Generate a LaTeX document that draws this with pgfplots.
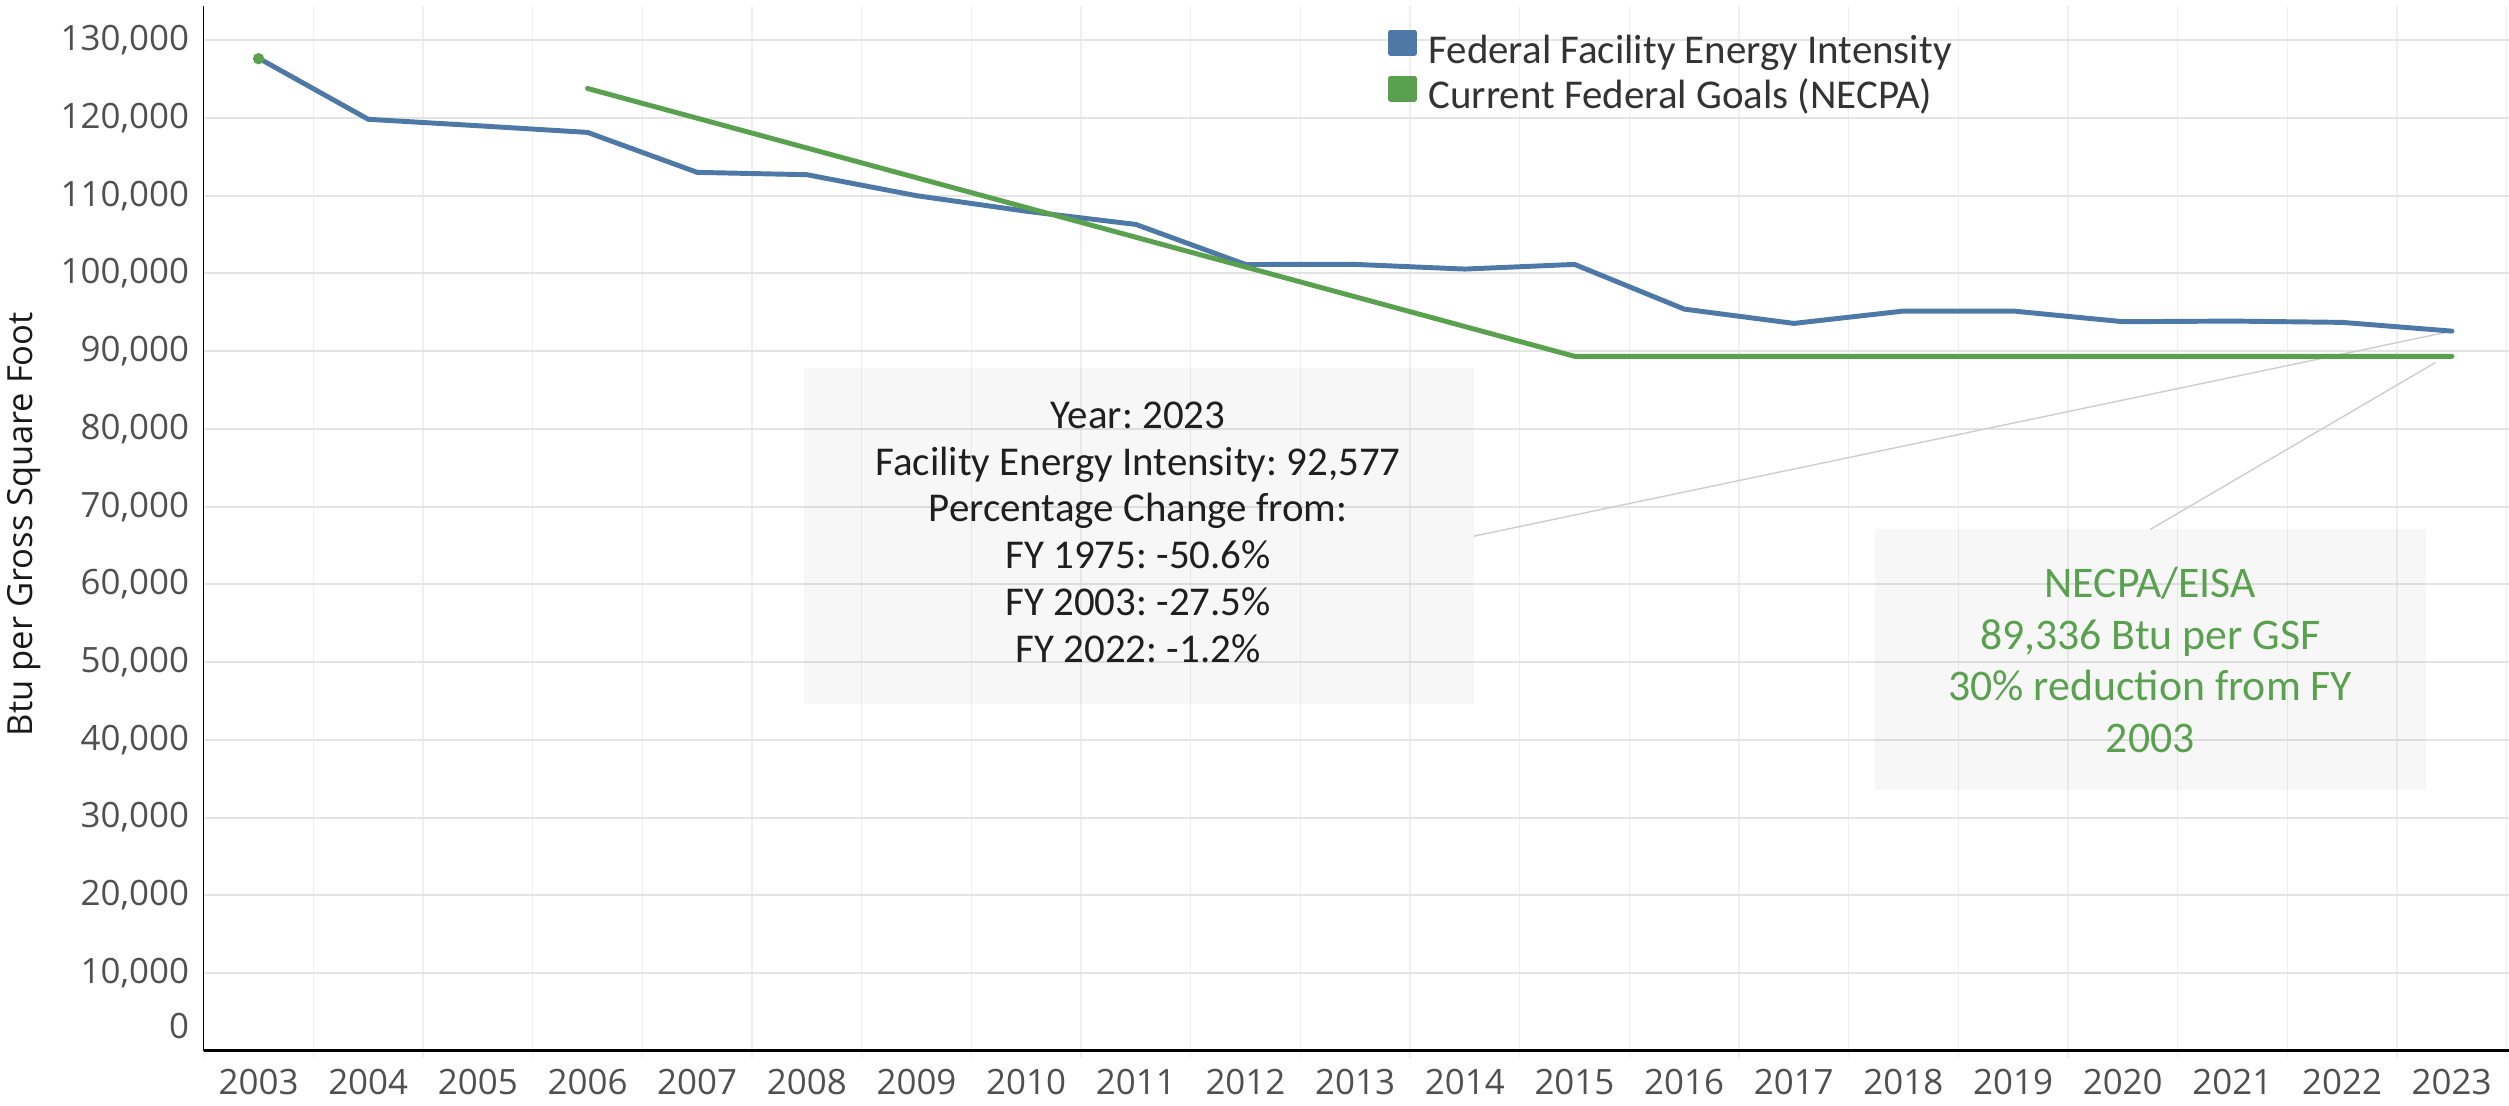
\documentclass[border=0pt]{standalone}
\usepackage{fontspec}
\setmainfont{Carlito}
\newfontfamily\titlefont{Open Sans}
\usepackage{pgfplots}
\pgfplotsset{compat=1.18}

\definecolor{tblue}{HTML}{4E79A7}
\definecolor{tgreen}{HTML}{59A14F}
\definecolor{hgrid}{HTML}{E4E4E4}
\definecolor{vgrid}{HTML}{EFEFEF}
\definecolor{ticktext}{HTML}{505050}
\definecolor{leader}{HTML}{CDCDCD}

\begin{document}
\frenchspacing
\begin{tikzpicture}
\begin{axis}[name=main,
  scale only axis, width=22.98cm, height=10.41cm,
  xmin=2002.5, xmax=2023.53, ymin=0, ymax=134400,
  axis lines=left,
  x axis line style={-, line width=0.9pt, black},
  y axis line style={-, line width=0.4pt, black},
  xtick={2003,...,2023},
  minor xtick={2002.5,2003.5,...,2023.5},
  ytick={10000,20000,...,130000},
  extra y ticks={3200}, extra y tick labels={0},
  extra y tick style={grid=none},
  major tick length=0pt, minor tick length=0.07cm, tick align=outside,
  minor tick style={draw=vgrid, line width=0.4pt},
  ymajorgrids, xminorgrids,
  major grid style={draw=hgrid, line width=0.6pt},
  minor grid style={draw=vgrid, line width=0.4pt},
  scaled y ticks=false,
  /pgf/number format/fixed,
  /pgf/number format/precision=0,
  /pgf/number format/1000 sep={,},
  /pgf/number format/assume math mode=true,
  ticklabel style={font=\titlefont\fontsize{9.9}{12}\selectfont, text=ticktext, inner sep=0pt},
  yticklabel style={xshift=-0.14cm},
  xticklabel style={yshift=-0.18cm, /pgf/number format/1000 sep={}},
  ylabel={Btu per Gross Square Foot},
  ylabel style={at={(axis description cs:-0.0778,0.504)}, anchor=center,
    font=\titlefont\fontsize{9.8}{11}\selectfont, text=black!90},
  legend cell align=left,
  legend style={at={(0.5134,0.978)}, anchor=north west, draw=none, fill=none,
    inner sep=0pt, row sep=0pt, font=\fontsize{11.6}{13}\selectfont, text=black!80,
    nodes={inner ysep=1.35pt, inner xsep=0.12cm, text height=0.72em, text depth=0.22em}},
]
% annotation boxes and leader lines, under the series
\draw[leader, line width=0.4pt] (axis cs:2023,92577) -- (axis cs:2014.08,66200);
\draw[leader, line width=0.4pt] (axis cs:2022.85,88540) -- (axis cs:2020.25,67070);
\fill[black, fill opacity=0.03] (axis cs:2007.97,87790) rectangle (axis cs:2014.08,44600);
\fill[black, fill opacity=0.03] (axis cs:2017.74,67090) rectangle (axis cs:2022.76,33550);
\node[align=center, text=black!88, font=\fontsize{11.6}{13.3}\selectfont]
  at (axis cs:2011.02,66700)
  {Year: 2023\\Facility Energy Intensity: 92,577\\Percentage Change from:\\FY 1975: -50.6\%\\FY 2003: -27.5\%\\FY 2022: -1.2\%};
\node[align=center, text=tgreen, font=\fontsize{12.4}{14.6}\selectfont]
  at (axis cs:2020.25,50250)
  {NECPA/EISA\\89,336 Btu per GSF\\30\% reduction from FY\\2003};

% FY2003 baseline of the goal
\addplot[only marks, mark=*, mark size=1.4pt, color=tgreen, forget plot]
  coordinates {(2003,127623)};

\addplot[color=tblue, line width=1.4pt, line join=round, line cap=round,
  legend image code/.code={\fill[tblue] (0cm,0.01cm) rectangle (0.23cm,0.22cm);}]
  coordinates {
  (2003,127692) (2004,119830) (2005,119000) (2006,118140) (2007,113000)
  (2008,112700) (2009,110000) (2010,108000) (2011,106300) (2012,101150)
  (2013,101160) (2014,100560) (2015,101160) (2016,95410) (2017,93570)
  (2018,95160) (2019,95160) (2020,93790) (2021,93870) (2022,93702)
  (2023,92577)};
\addlegendentry{Federal Facility Energy Intensity}

\addplot[color=tgreen, line width=1.4pt, line join=round, line cap=round,
  legend image code/.code={\fill[tgreen] (0cm,0.01cm) rectangle (0.23cm,0.22cm);}]
  coordinates {
  (2006,123794) (2007,119966) (2008,116137) (2009,112308) (2010,108480)
  (2011,104651) (2012,100822) (2013,96994) (2014,93165) (2015,89336)
  (2016,89336) (2017,89336) (2018,89336) (2019,89336) (2020,89336)
  (2021,89336) (2022,89336) (2023,89336)};
\addlegendentry{Current Federal Goals (NECPA)}
\end{axis}
\pgfresetboundingbox
\path[use as bounding box] (main.south west) ++(-2.03cm,-0.55cm) rectangle ++(25cm,11.02cm);
\end{tikzpicture}
\end{document}
